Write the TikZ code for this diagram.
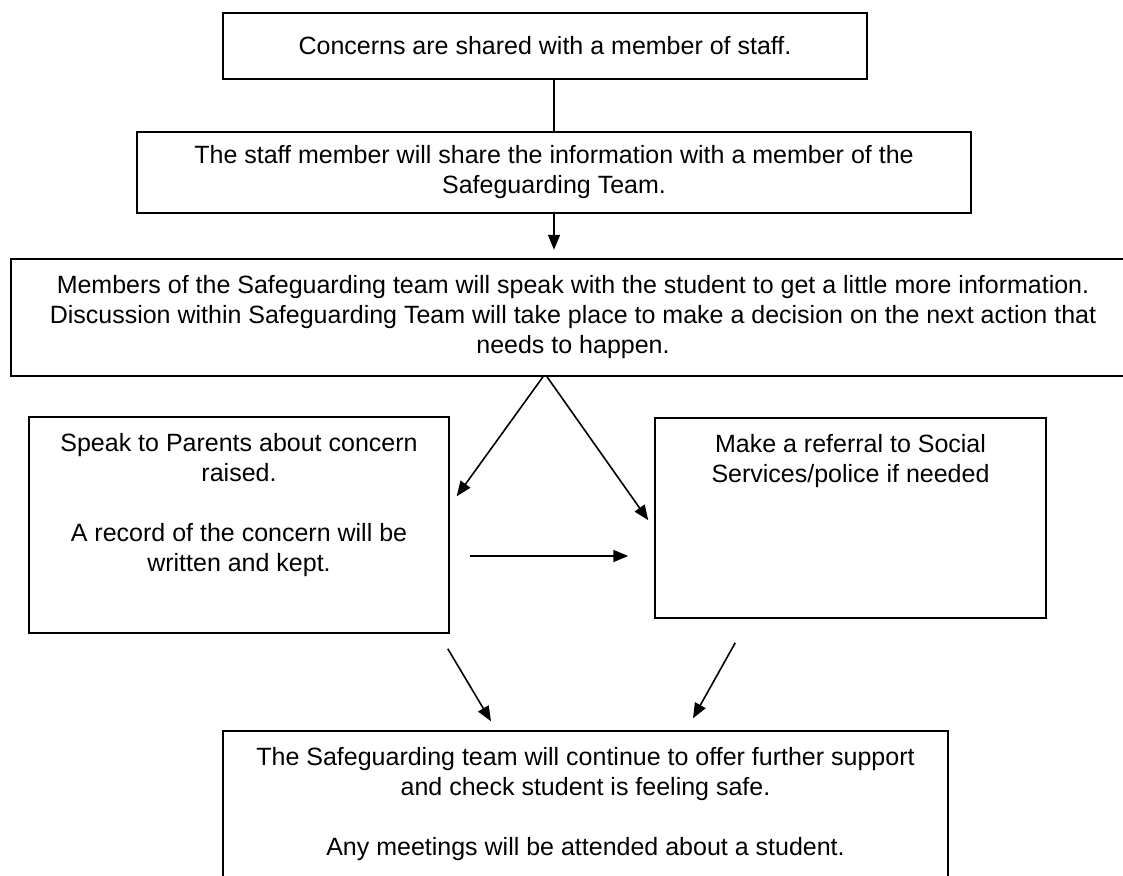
\documentclass[tikz,border=0pt]{standalone}
\usepackage{fontspec}
\setmainfont{Liberation Sans}
\usetikzlibrary{arrows.meta,calc}
\newcommand{\toptext}[3]{\parbox[c][#1][t]{#2}{\centering\vspace*{13pt}\strut#3}}

\begin{document}
\begin{tikzpicture}[x=1pt, y=-1pt,
	box/.style={draw, line width=1.5pt, inner sep=0pt, align=center,
		font=\fontsize{25}{30}\selectfont},
	arr/.style={-{Triangle[length=15pt,width=12pt]}, line width=1.6pt}]
\useasboundingbox[fill=white] (0,0) rectangle (1123,875);
\clip (0,0) rectangle (1123,875);
\node[box, minimum width=644pt, minimum height=66pt] (concern) at (545,46)
	{Concerns are shared with a member of staff.};
\node[box, minimum width=834pt, minimum height=81pt] (share) at (554,172.5)
	{The staff member will share the information with a member of the\\
	Safeguarding Team.};
\node[box, minimum width=1124pt, minimum height=117pt] (team) at (573,317.5)
	{Members of the Safeguarding team will speak with the student to get a little more information.\\
	Discussion within Safeguarding Team will take place to make a decision on the next action that\\
	needs to happen.};
\node[box] (speak) at (239,525)
	{\toptext{216pt}{420pt}{Speak to Parents about concern\\ raised.\\[30pt]
	A record of the concern will be\\ written and kept.}};
\node[box] (refer) at (850.5,518)
	{\toptext{200pt}{391pt}{Make a referral to Social\\ Services/police if needed}};
\node[box] (follow) at (585.5,816)
	{\toptext{170pt}{725pt}{The Safeguarding team will continue to offer further support\\
	and check student is feeling safe.\\[30pt]
	Any meetings will be attended about a student.}};
\draw[line width=1.6pt] (share.north |- concern.south) -- (share.north);
\draw[arr] (share.south) -- ($(share.south)+(0,36)$);
\draw[arr] ($(team.south)+(-30,0)$) -- ($(speak.north east)+(7,80)$);
\draw[arr] ($(team.south)+(-26,0)$) -- ($(refer.north west)+(-6,103)$);
\draw[arr] ($(speak.east)+(20,31)$) -- ($(refer.west)+(-26,38)$);
\draw[arr] ($(speak.south east)+(-2,15)$) -- ($(follow.north)+(-94.5,-9)$);
\draw[arr] ($(refer.south west)+(81,24)$) -- ($(follow.north)+(107.5,-12)$);
\end{tikzpicture}
\end{document}
